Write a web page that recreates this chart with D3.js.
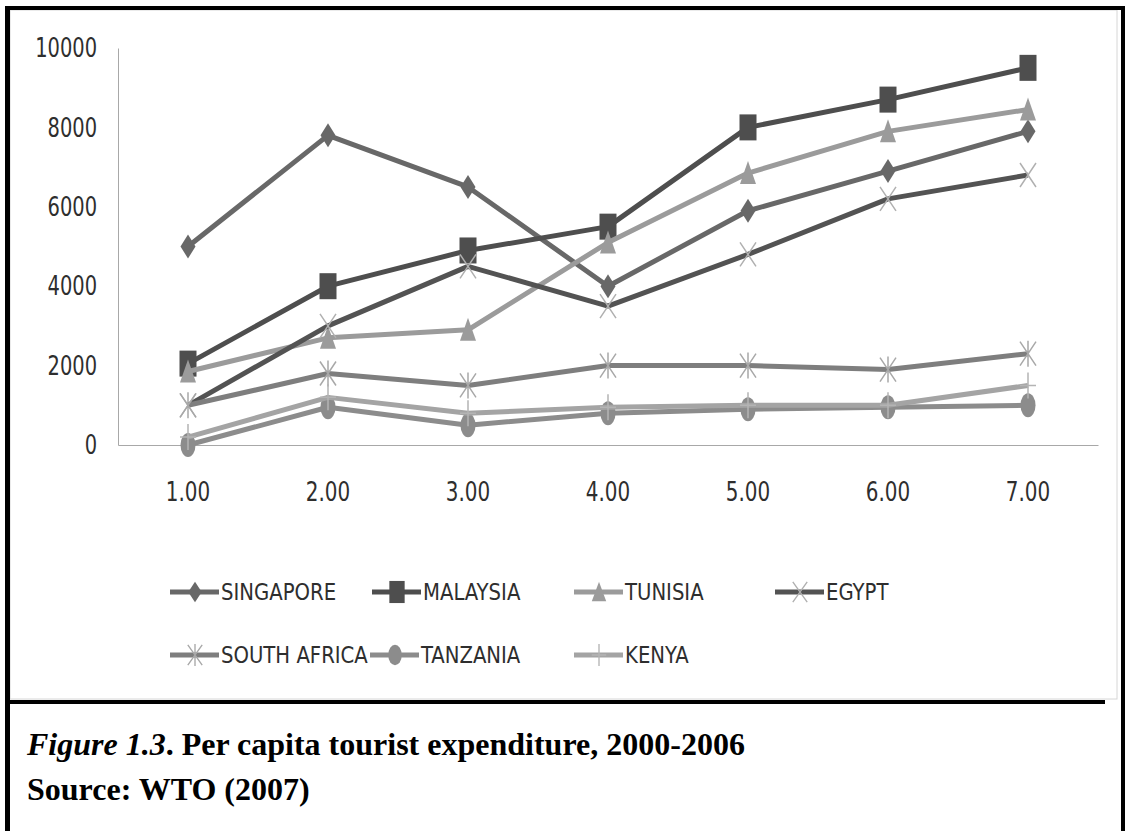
<!DOCTYPE html>
<html>
<head>
<meta charset="utf-8">
<script src="https://cdn.jsdelivr.net/npm/d3@7"></script>
<style>
  html, body { margin: 0; padding: 0; background: #fff; }
  svg { display: block; }
  .tick text, .legend text { font-family: "Liberation Sans Narrow", "DejaVu Sans Condensed", "Roboto Condensed", sans-serif; fill: #2e2e2e; }
  .caption { font-family: "Liberation Serif", "Times New Roman", serif; font-weight: bold; fill: #000; }
</style>
</head>
<body>
<script>
// ---- data ----
const categories = ["1.00", "2.00", "3.00", "4.00", "5.00", "6.00", "7.00"];
const yTicks = [0, 2000, 4000, 6000, 8000, 10000];
const seriesNames = ["SINGAPORE", "MALAYSIA", "TUNISIA", "EGYPT", "SOUTH AFRICA", "TANZANIA", "KENYA"];
const singapore   = [5000, 7800, 6500, 4000, 5900, 6900, 7900];
const malaysia    = [2050, 4000, 4900, 5500, 8000, 8700, 9500];
const tunisia     = [1850, 2700, 2900, 5100, 6850, 7900, 8450];
const egypt       = [1000, 3000, 4500, 3500, 4800, 6200, 6800];
const southAfrica = [1000, 1800, 1500, 2000, 2000, 1900, 2300];
const tanzania    = [0, 950, 500, 800, 900, 950, 1000];
const kenya       = [200, 1200, 800, 950, 1000, 1000, 1500];
const captionTitle = "Per capita tourist expenditure, 2000-2006";
const captionFig = "Figure 1.3";
const captionSource = "Source: WTO (2007)";

const seriesValues = [singapore, malaysia, tunisia, egypt, southAfrica, tanzania, kenya];
const seriesStyle = [
  { line: "#686868", fill: "#686868", marker: "diamond" },
  { line: "#4e4e4e", fill: "#4e4e4e", marker: "square" },
  { line: "#9b9b9b", fill: "#9b9b9b", marker: "triangle" },
  { line: "#535353", fill: "#b0b0b0", marker: "x" },
  { line: "#7e7e7e", fill: "#a8a8a8", marker: "asterisk" },
  { line: "#8c8c8c", fill: "#8c8c8c", marker: "circle" },
  { line: "#a4a4a4", fill: "#b4b4b4", marker: "plus" }
];

const W = 1125, H = 831;
const svg = d3.select("body").append("svg").attr("width", W).attr("height", H);

// condense text horizontally (narrow chart font look)
function condense(sel, factor) {
  sel.each(function () {
    const len = this.getComputedTextLength();
    d3.select(this).attr("textLength", len * factor).attr("lengthAdjust", "spacingAndGlyphs");
  });
}

// frame
svg.append("rect").attr("x", 10).attr("y", 10).attr("width", 1107).attr("height", 689)
  .attr("fill", "#fff").attr("stroke", "#d6d6d6").attr("stroke-width", 1);
svg.append("rect").attr("x", 5).attr("y", 6).attr("width", 1120).attr("height", 4).attr("fill", "#000");
svg.append("rect").attr("x", 5).attr("y", 6).attr("width", 5).attr("height", H).attr("fill", "#000");
svg.append("rect").attr("x", 1121).attr("y", 6).attr("width", 4).attr("height", H).attr("fill", "#000");
svg.append("rect").attr("x", 8).attr("y", 700).attr("width", 1097).attr("height", 4).attr("fill", "#000");

// scales
const x = d3.scaleBand().domain(categories).range([118, 1098]);
const y = d3.scaleLinear().domain([0, 10000]).range([445, 48]);
const cx = d => x(d) + x.bandwidth() / 2;

// axes
const yAxis = svg.append("g").attr("transform", "translate(118,0)")
  .call(d3.axisLeft(y).tickValues(yTicks).tickSize(0).tickPadding(21).tickFormat(d3.format("d")));
yAxis.select(".domain").attr("stroke", "#a8a8a8");
yAxis.selectAll("text").style("font-size", "27px");
condense(yAxis.selectAll("text"), 0.8);

const xAxis = svg.append("g").attr("transform", "translate(0,445)")
  .call(d3.axisBottom(x).tickSize(0).tickSizeOuter(0).tickPadding(37));
xAxis.select(".domain").attr("stroke", "#a8a8a8");
xAxis.selectAll("text").style("font-size", "27px");
condense(xAxis.selectAll("text"), 0.82);

// markers
function drawMarker(g, type, color) {
  switch (type) {
    case "diamond":
      g.append("path").attr("d", "M0,-12L7.5,0L0,12L-7.5,0Z").attr("fill", color); break;
    case "square":
      g.append("rect").attr("x", -8.5).attr("y", -13).attr("width", 17).attr("height", 26).attr("fill", color); break;
    case "triangle":
      g.append("path").attr("d", "M0,-12L8,11L-8,11Z").attr("fill", color); break;
    case "circle":
      g.append("ellipse").attr("rx", 7.5).attr("ry", 12).attr("fill", color); break;
    case "x":
      g.append("path").attr("d", "M-8,-12L8,12M-8,12L8,-12").attr("stroke", color).attr("stroke-width", 1.5).attr("fill", "none"); break;
    case "asterisk":
      g.append("path").attr("d", "M-8,-12L8,12M-8,12L8,-12M0,-13L0,13").attr("stroke", color).attr("stroke-width", 1.5).attr("fill", "none"); break;
    case "plus":
      g.append("path").attr("d", "M0,-13L0,13M-8,0L8,0").attr("stroke", color).attr("stroke-width", 1.5).attr("fill", "none"); break;
  }
}

const line = d3.line().x(d => cx(d.c)).y(d => y(d.v));
seriesValues.forEach((vals, i) => {
  const pts = vals.map((v, j) => ({ c: categories[j], v }));
  const st = seriesStyle[i];
  const g = svg.append("g");
  g.append("path").datum(pts).attr("d", line).attr("fill", "none")
    .attr("stroke", st.line).attr("stroke-width", 5).attr("stroke-linejoin", "round");
  g.selectAll("g.m").data(pts).join("g").attr("class", "m")
    .attr("transform", d => `translate(${cx(d.c)},${y(d.v)})`)
    .each(function () { drawMarker(d3.select(this), st.marker, st.fill); });
});

// legend
const legendPos = [[170, 592], [372, 592], [574, 592], [775, 592], [170, 655], [370, 655], [574, 655]];
const legend = svg.append("g").attr("class", "legend");
seriesNames.forEach((name, i) => {
  const st = seriesStyle[i];
  const [lx, ly] = legendPos[i];
  const g = legend.append("g").attr("transform", `translate(${lx},${ly})`);
  g.append("line").attr("x1", 0).attr("x2", 49).attr("y1", 0).attr("y2", 0)
    .attr("stroke", st.line).attr("stroke-width", 5);
  const m = g.append("g").attr("transform", "translate(25,0) scale(0.9,0.85)");
  drawMarker(m, st.marker, st.fill);
  g.append("text").attr("x", 51).attr("y", 0).attr("dy", "0.36em").style("font-size", "23px").text(name);
});
condense(legend.selectAll("text"), 0.95);

// caption
const cap = svg.append("text").attr("class", "caption").attr("x", 27).attr("y", 755).style("font-size", "32px");
cap.append("tspan").style("font-style", "italic").text(captionFig);
cap.append("tspan").text(". " + captionTitle);
svg.append("text").attr("class", "caption").attr("x", 27).attr("y", 800).style("font-size", "32px").text(captionSource);
</script>
</body>
</html>
